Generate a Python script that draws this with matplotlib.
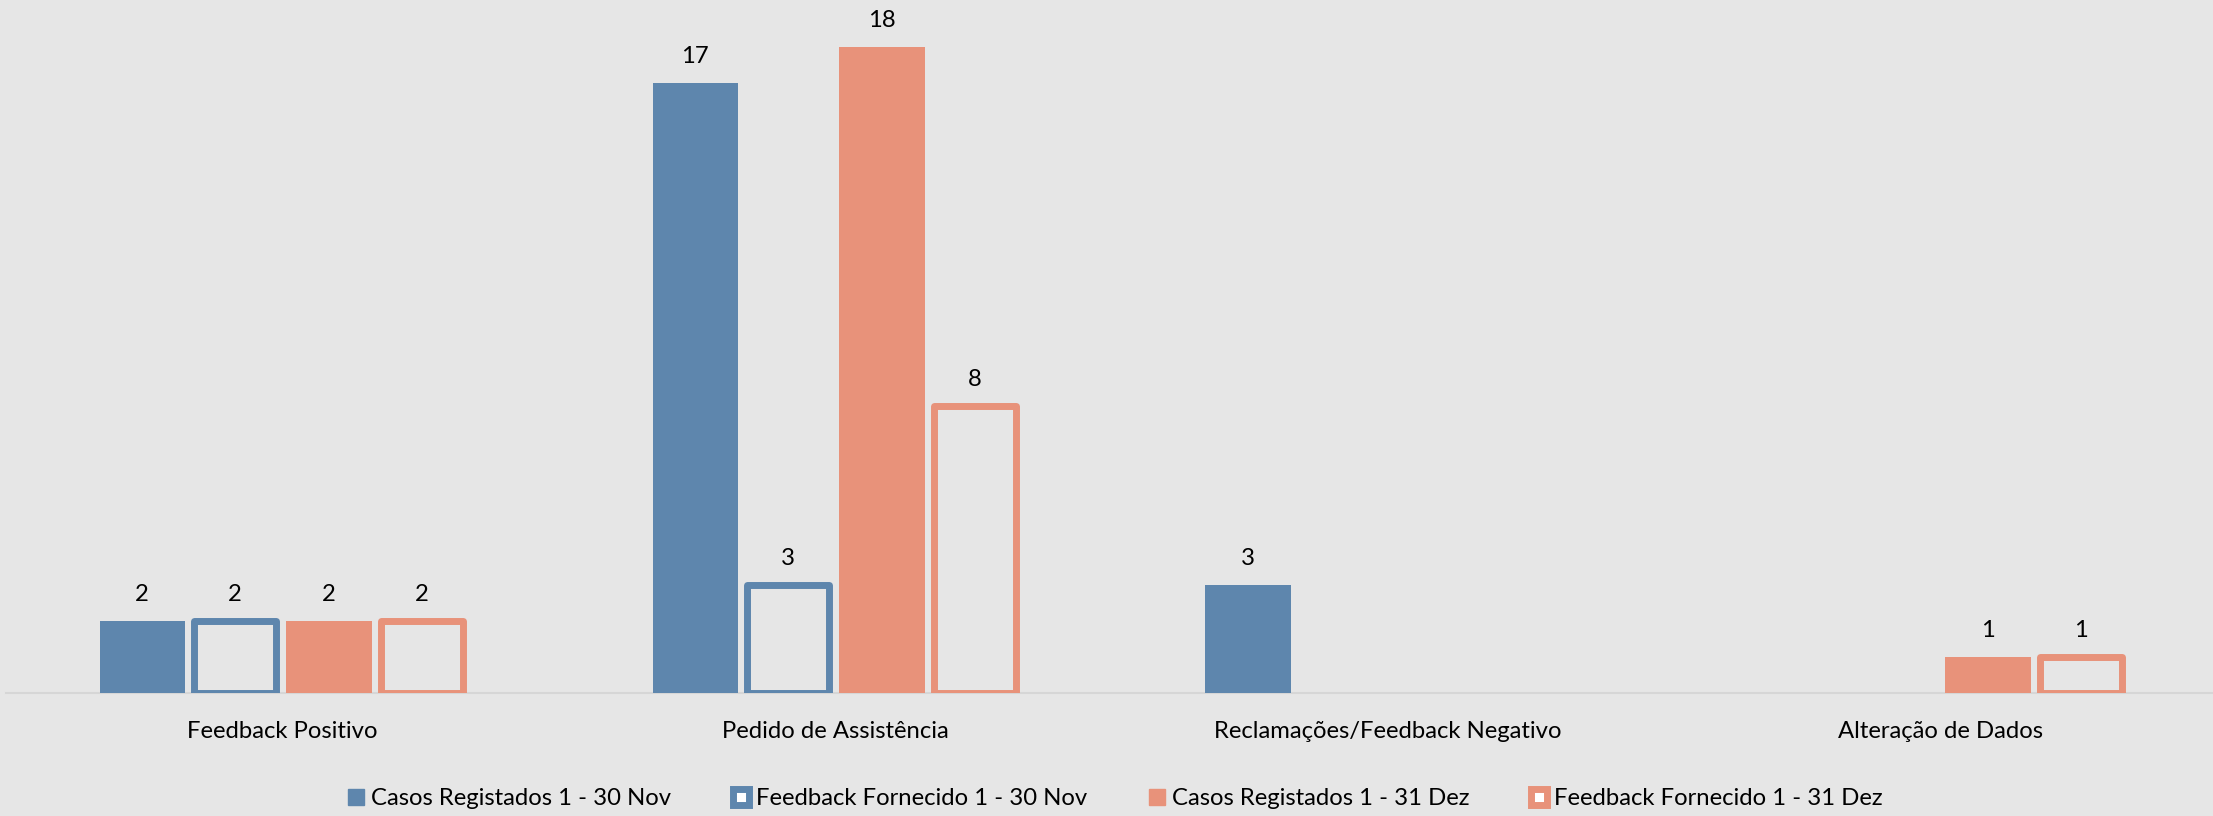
import matplotlib.pyplot as plt
import numpy as np
from matplotlib.patches import Patch

# Categorias e valores por série
categorias = ["Feedback Positivo", "Pedido de Assistência",
              "Reclamações/Feedback Negativo", "Alteração de Dados"]
casos_nov = [2, 17, 3, 0]
feedback_nov = [2, 3, 0, 0]
casos_dez = [2, 18, 0, 1]
feedback_dez = [2, 8, 0, 1]

series_nomes = ["Casos Registados 1 - 30 Nov", "Feedback Fornecido 1 - 30 Nov",
                "Casos Registados 1 - 31 Dez", "Feedback Fornecido 1 - 31 Dez"]

azul = "#5E86AD"
salmao = "#E8927A"
fundo = "#E6E6E6"
tamanho = 17.2

plt.rcParams['font.family'] = ['Lato', 'DejaVu Sans']

fig = plt.figure(figsize=(22.13, 8.16), dpi=100, facecolor=fundo)
ax = fig.add_axes([0.0025, 0.1507, 0.9995, 0.8493])
ax.set_facecolor(fundo)

x = np.arange(len(categorias))
largura = 0.154
desvios = [-0.253, -0.085, 0.085, 0.253]
valores = [casos_nov, feedback_nov, casos_dez, feedback_dez]
cores = [azul, azul, salmao, salmao]
preenchido = [True, False, True, False]

for vals, desvio, cor, cheio in zip(valores, desvios, cores, preenchido):
    vals = np.array(vals)
    idx = vals > 0  # barras a zero não são desenhadas
    if cheio:
        barras = ax.bar(x[idx] + desvio, vals[idx], largura, color=cor, linewidth=0)
    else:
        barras = ax.bar(x[idx] + desvio, vals[idx], largura - 0.006, facecolor="none",
                        edgecolor=cor, linewidth=5, joinstyle="round")
    for b, v in zip(barras, vals[idx]):
        ax.annotate(f"{v}", (b.get_x() + b.get_width() / 2, v),
                    xytext=(0, 19), textcoords="offset points",
                    ha="center", va="center", fontsize=tamanho, color="black")

ax.set_xlim(-0.5, 3.5)
ax.set_ylim(0, 19.3)
ax.set_yticks([])
ax.set_xticks(x)
ax.set_xticklabels(categorias, fontsize=tamanho)
ax.tick_params(axis="x", length=0, pad=20)
for lado in ["top", "right", "left"]:
    ax.spines[lado].set_visible(False)
ax.spines["bottom"].set_color("#D6D6D6")
ax.spines["bottom"].set_linewidth(1.5)
ax.spines["bottom"].set_zorder(0)

# Legenda na parte inferior
handles = [
    Patch(facecolor=azul, edgecolor=azul),
    Patch(facecolor="white", edgecolor=azul, linewidth=5),
    Patch(facecolor=salmao, edgecolor=salmao),
    Patch(facecolor="white", edgecolor=salmao, linewidth=5),
]
fig.legend(handles, series_nomes, loc="center", bbox_to_anchor=(0.504, 0.021),
           ncol=4, frameon=False, fontsize=tamanho, handlelength=0.65,
           handleheight=0.65, handletextpad=0.3, columnspacing=2.6)

plt.savefig("out.png", dpi=100, facecolor=fundo)
